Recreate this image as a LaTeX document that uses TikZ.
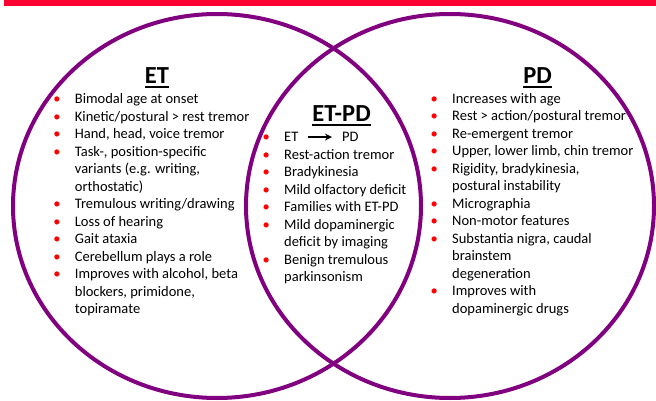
\documentclass[tikz,border=0pt]{standalone}
\usepackage{fontspec}
\setmainfont{Carlito}
\usepackage{tikz}
\usetikzlibrary{arrows.meta}

\definecolor{venn}{RGB}{128,0,128}
\definecolor{bulred}{RGB}{255,0,0}
\definecolor{barred}{RGB}{255,0,51}
\newcommand{\bul}{\makebox[0pt]{\color{bulred}\textbullet}}
\newcommand{\colfont}{\fontsize{14.5}{17.5}\selectfont}

\begin{document}
\begin{tikzpicture}[x=1pt, y=-1pt,
    ring/.style={draw=venn, line width=4pt},
    head/.style={font=\fontsize{24.5}{28}\selectfont\bfseries, inner sep=0pt, anchor=base},
    items/.style={font=\colfont, inner sep=0pt, anchor=base west, align=left},
    uline/.style={line width=1.8pt}]
    \useasboundingbox (0,0) rectangle (656,401);
    \fill[barred] (4,0) rectangle (656,6);
    \draw[ring] (217,206) ellipse [x radius=204pt, y radius=192pt];
    \draw[ring] (450,206) ellipse [x radius=204pt, y radius=192pt];

    \node[head] (etT) at (157,83.3) {ET};
    \node[head] (etpdT) at (341.5,121.7) {ET-PD};
    \node[head] (pdT) at (537.5,83.3) {PD};
    \foreach \h in {etT, etpdT, pdT}
        \draw[uline] ([yshift=-3.5pt]\h.base west) -- ([yshift=-3.5pt]\h.base east);

    \node[items] (et) at (56.7,104) {\setlength\tabcolsep{0pt}\begin{tabular}[t]{@{}p{18pt}@{}l@{}}
        \bul & Bimodal age at onset\\
        \bul & Kinetic/postural > rest tremor\\
        \bul & Hand, head, voice tremor\\
        \bul & Task-, position-specific\\
             & variants (e.g. writing,\\
             & orthostatic)\\
        \bul & Tremulous writing/drawing\\
        \bul & Loss of hearing\\
        \bul & Gait ataxia\\
        \bul & Cerebellum plays a role\\
        \bul & Improves with alcohol, beta\\
             & blockers, primidone,\\
             & topiramate
    \end{tabular}};

    \node[items] (etpd) at (266,141.7) {\setlength\tabcolsep{0pt}\begin{tabular}[t]{@{}p{18pt}@{}l@{}}
        \bul & \\
        \bul & Rest-action tremor\\
        \bul & Bradykinesia\\
        \bul & Mild olfactory deficit\\
        \bul & Families with ET-PD\\
        \bul & Mild dopaminergic\\
             & deficit by imaging\\
        \bul & Benign tremulous\\
             & parkinsonism
    \end{tabular}};
    \node[items] (from) at (284,141.7) {ET};
    \node[items] (to) at (342,141.7) {PD};
    \draw[-{Stealth[length=7pt,width=7pt]}, line width=1.6pt, shorten <=9pt, shorten >=10pt] (from) -- (to);

    \node[items] (pd) at (434,103.3) {\setlength\tabcolsep{0pt}\begin{tabular}[t]{@{}p{18pt}@{}l@{}}
        \bul & Increases with age\\
        \bul & Rest > action/postural tremor\\
        \bul & Re-emergent tremor\\
        \bul & Upper, lower limb, chin tremor\\
        \bul & Rigidity, bradykinesia,\\
             & postural instability\\
        \bul & Micrographia\\
        \bul & Non-motor features\\
        \bul & Substantia nigra, caudal\\
             & brainstem\\
             & degeneration\\
        \bul & Improves with\\
             & dopaminergic drugs
    \end{tabular}};
\end{tikzpicture}
\end{document}
